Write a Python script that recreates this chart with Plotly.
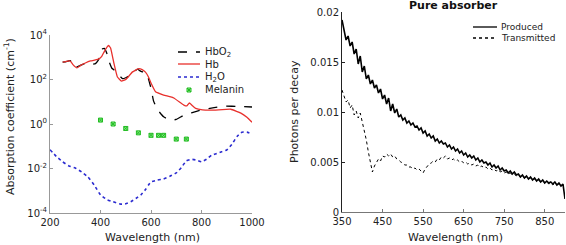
import plotly.graph_objects as go

# ---------------- Left panel data ----------------
hbo2_wl = [250, 260, 280, 290, 300, 310, 330, 350, 367, 380, 390, 400, 407, 415, 425, 435, 445, 455,
           470, 487, 500, 520, 546, 560, 578, 586, 593, 600, 610, 625, 650, 677, 700, 730, 760, 800, 850, 890, 950, 1000]
hbo2_val = [600, 620, 700, 480, 330, 380, 480, 560, 480, 520, 700, 1200, 2300, 2500, 1500, 600, 320, 260,
            170, 110, 120, 160, 290, 230, 210, 150, 80, 40, 11, 4.5, 2.1, 1.5, 1.6, 2.5, 3.2, 4.3, 5.4, 6.3, 6.2, 5.8]

hb_wl = [250, 260, 280, 290, 307, 320, 340, 360, 380, 392, 405, 415, 425, 432, 440, 453, 467, 483,
         500, 527, 551, 565, 578, 590, 600, 618, 650, 690, 730, 742, 752, 762, 777, 804, 850, 916, 956, 980, 1000]
hb_val = [600, 640, 680, 480, 330, 420, 550, 680, 760, 830, 1100, 1800, 2800, 3400, 2600, 550, 130, 85,
          100, 220, 310, 280, 215, 130, 69, 28, 20, 14.8, 7.1, 6.5, 8.8, 7.0, 5.0, 4.3, 4.2, 4.6, 3.1, 2.0, 1.2]

h2o_wl = [200, 225, 250, 275, 300, 325, 350, 375, 400, 425, 450, 480, 500, 520, 540, 560, 580, 590, 600,
          625, 650, 675, 700, 720, 740, 760, 780, 800, 820, 840, 860, 880, 900, 920, 940, 960, 980, 1000]
h2o_val = [0.07, 0.035, 0.02, 0.013, 0.0105, 0.007, 0.0042, 0.0018, 0.00065, 0.0004, 0.00032, 0.00025,
           0.00026, 0.00032, 0.00045, 0.00065, 0.0012, 0.0018, 0.0025, 0.0030, 0.0034, 0.0045, 0.0063,
           0.011, 0.022, 0.026, 0.024, 0.020, 0.026, 0.040, 0.047, 0.057, 0.068, 0.12, 0.27, 0.43, 0.43, 0.36]

mel_wl = [400, 450, 500, 550, 600, 630, 650, 700, 740]
mel_val = [1.5, 1.0, 0.63, 0.4, 0.31, 0.31, 0.31, 0.21, 0.21]

left_yticks = [1e-4, 1e-2, 1, 1e2, 1e4]
left_yticktext = ["10<sup>-4</sup>", "10<sup>-2</sup>", "10<sup>0</sup>", "10<sup>2</sup>", "10<sup>4</sup>"]
left_xticks = [200, 400, 600, 800, 1000]
left_names = ["HbO<sub>2</sub>", "Hb", "H<sub>2</sub>O", "Melanin"]

# ---------------- Right panel data ----------------
spec_wl = list(range(350, 905, 5))
produced = [0.0192, 0.0180, 0.0172, 0.0176, 0.0166, 0.0170, 0.0158, 0.0163, 0.0148, 0.0156,
            0.0140, 0.0146, 0.0133, 0.0137, 0.0128, 0.0132, 0.0124, 0.0127, 0.0119, 0.0123,
            0.0113, 0.0117, 0.0108, 0.0114, 0.0101, 0.0108, 0.0099, 0.0103, 0.0095, 0.0097,
            0.0092, 0.0094, 0.0089, 0.0091, 0.0087, 0.0089, 0.0085, 0.0086, 0.0082, 0.0084,
            0.0079, 0.0081, 0.0076, 0.0078, 0.0074, 0.0076, 0.0071, 0.0073, 0.0069, 0.0071,
            0.0068, 0.0069, 0.0065, 0.0067, 0.0063, 0.0065, 0.0061, 0.0063, 0.0059, 0.0061,
            0.0057, 0.0059, 0.0055, 0.0057, 0.0054, 0.0056, 0.0052, 0.0054, 0.0050, 0.0052,
            0.0049, 0.0050, 0.0047, 0.0049, 0.0045, 0.0047, 0.0044, 0.0046, 0.0042, 0.0044,
            0.0041, 0.0042, 0.0039, 0.0041, 0.0038, 0.0040, 0.0037, 0.0038, 0.0035, 0.0037,
            0.0034, 0.0036, 0.0033, 0.0035, 0.0032, 0.0034, 0.0031, 0.0033, 0.0030, 0.0032,
            0.0029, 0.0031, 0.0029, 0.0030, 0.0028, 0.0030, 0.0027, 0.0029, 0.0026, 0.0028,
            0.0013]
transmitted = [0.0122, 0.0115, 0.0110, 0.0112, 0.0104, 0.0107, 0.0097, 0.0101, 0.0094, 0.0099,
               0.0090, 0.0083, 0.0072, 0.0060, 0.0048, 0.0040, 0.0046, 0.0050, 0.0053, 0.0051,
               0.0056, 0.0055, 0.0058, 0.0056, 0.0058, 0.0055, 0.0056, 0.0053, 0.0052, 0.0050,
               0.0049, 0.0047, 0.0047, 0.0045, 0.0045, 0.0043, 0.0044, 0.0042, 0.0043, 0.0041,
               0.0039, 0.0043, 0.0046, 0.0048, 0.0049, 0.0051, 0.0050, 0.0053, 0.0052, 0.0055,
               0.0054, 0.0056, 0.0053, 0.0054, 0.0052, 0.0053, 0.0051, 0.0052, 0.0050, 0.0051,
               0.0049, 0.0050, 0.0048, 0.0049, 0.0047, 0.0048, 0.0046, 0.0047, 0.0045, 0.0046,
               0.0044, 0.0045, 0.0043, 0.0044, 0.0042, 0.0043, 0.0041, 0.0042, 0.0040, 0.0041,
               0.0039, 0.0040, 0.0038, 0.0039, 0.0037, 0.0038, 0.0036, 0.0037, 0.0035, 0.0036,
               0.0034, 0.0035, 0.0033, 0.0034, 0.0032, 0.0033, 0.0031, 0.0032, 0.0030, 0.0031,
               0.0029, 0.0030, 0.0028, 0.0029, 0.0027, 0.0029, 0.0027, 0.0028, 0.0026, 0.0027,
               0.0025]

right_yticks = [0, 0.005, 0.01, 0.015, 0.02]
right_yticktext = ["0", "0.005", "0.01", "0.015", "0.02"]
right_xticks = [350, 450, 550, 650, 750, 850]
right_names = ["Produced", "Transmitted"]

FONT = "DejaVu Sans"
W, H = 566, 245
TXT = "#222"

# styles
S_HBO2 = dict(color="black", width=1.3, dash="dash")
S_HB = dict(color="#e8302c", width=1.3)
S_H2O = dict(color="#2b2bd0", width=1.6, dash="dot")
MEL_MARK = dict(symbol="square-x", size=4, color="#8ef08e", line=dict(color="#22bb22", width=1))
S_PROD = dict(color="black", width=1.6)
S_TRANS = dict(color="black", width=1, dash="dot")

fig = go.Figure()
fig.add_trace(go.Scatter(x=hbo2_wl, y=hbo2_val, mode="lines", name=left_names[0],
                         line=dict(**S_HBO2, shape="spline", smoothing=0.3), xaxis="x", yaxis="y"))
fig.add_trace(go.Scatter(x=hb_wl, y=hb_val, mode="lines", name=left_names[1],
                         line=dict(**S_HB, shape="spline", smoothing=0.3), xaxis="x", yaxis="y"))
fig.add_trace(go.Scatter(x=h2o_wl, y=h2o_val, mode="lines", name=left_names[2],
                         line=dict(**S_H2O, shape="spline", smoothing=0.3), xaxis="x", yaxis="y"))
fig.add_trace(go.Scatter(x=mel_wl, y=mel_val, mode="markers", name=left_names[3],
                         marker=MEL_MARK, xaxis="x", yaxis="y"))
fig.add_trace(go.Scatter(x=spec_wl, y=produced, mode="lines", name=right_names[0],
                         line=S_PROD, xaxis="x2", yaxis="y2"))
fig.add_trace(go.Scatter(x=spec_wl, y=transmitted, mode="lines", name=right_names[1],
                         line=S_TRANS, xaxis="x2", yaxis="y2"))

# ---- manual legends on a hidden pixel-space overlay axis ----
leg_left_y = [52, 64, 77, 90]
leg_right_y = [27, 38]
for yy, st in zip(leg_left_y[:3], [S_HBO2, S_HB, S_H2O]):
    fig.add_trace(go.Scatter(x=[178, 200], y=[yy, yy], mode="lines", line=st, showlegend=False,
                             hoverinfo="skip", xaxis="x3", yaxis="y3"))
fig.add_trace(go.Scatter(x=[189], y=[leg_left_y[3]], mode="markers", marker=MEL_MARK, showlegend=False,
                         hoverinfo="skip", xaxis="x3", yaxis="y3"))
for yy, st in zip(leg_right_y, [S_PROD, S_TRANS]):
    fig.add_trace(go.Scatter(x=[473, 497], y=[yy, yy], mode="lines", line=dict(st, width=1.3),
                             showlegend=False, hoverinfo="skip", xaxis="x3", yaxis="y3"))

annotations = []
for yy, name in zip(leg_left_y, left_names):
    annotations.append(dict(text=name, x=203 / W, y=1 - yy / H, xref="paper", yref="paper",
                            xanchor="left", yanchor="middle", showarrow=False,
                            font=dict(family=FONT, size=10, color=TXT)))
for yy, name in zip(leg_right_y, right_names):
    annotations.append(dict(text=name, x=499 / W, y=1 - yy / H, xref="paper", yref="paper",
                            xanchor="left", yanchor="middle", showarrow=False,
                            font=dict(family=FONT, size=9, color=TXT)))
annotations += [
    dict(text="<b>Pure absorber</b>", x=453 / W, y=1 - 6 / H, xref="paper", yref="paper",
         xanchor="center", yanchor="middle", showarrow=False, font=dict(family=FONT, size=11, color="#111")),
    dict(text="Absorption coefficient (cm<sup>-1</sup>)", x=10 / W, y=1 - 117 / H, xref="paper", yref="paper",
         xanchor="center", yanchor="middle", textangle=-90, showarrow=False,
         font=dict(family=FONT, size=11, color=TXT)),
    dict(text="Photons per decay", x=295 / W, y=1 - 112 / H, xref="paper", yref="paper",
         xanchor="center", yanchor="middle", textangle=-90, showarrow=False,
         font=dict(family=FONT, size=11, color=TXT)),
    dict(text="Wavelength (nm)", x=152 / W, y=1 - 237 / H, xref="paper", yref="paper",
         xanchor="center", yanchor="middle", showarrow=False, font=dict(family=FONT, size=11, color=TXT)),
    dict(text="Wavelength (nm)", x=455 / W, y=1 - 237 / H, xref="paper", yref="paper",
         xanchor="center", yanchor="middle", showarrow=False, font=dict(family=FONT, size=11, color=TXT)),
]

axis_common = dict(showgrid=False, zeroline=False, ticks="inside", ticklen=3, automargin=False,
                   tickfont=dict(family=FONT, size=10, color=TXT), mirror=False)

fig.update_layout(
    template="none",
    width=W, height=H,
    margin=dict(l=0, r=0, t=0, b=0),
    paper_bgcolor="white", plot_bgcolor="rgba(0,0,0,0)",
    font=dict(family=FONT, color=TXT),
    showlegend=False,
    xaxis=dict(domain=[50 / W, 252 / W], range=[200, 1000], anchor="y",
               tickvals=left_xticks, showline=True, linecolor="#999", linewidth=1, tickcolor="#999",
               **axis_common),
    yaxis=dict(domain=[1 - 213 / H, 1 - 35 / H], type="log", range=[-4, 4], anchor="x",
               tickvals=left_yticks, ticktext=left_yticktext,
               showline=True, linecolor="#999", linewidth=1, tickcolor="#999",
               **axis_common),
    xaxis2=dict(domain=[342 / W, 565 / W], range=[350, 900], anchor="y2",
                tickvals=right_xticks, showline=True, linecolor="#777", linewidth=1, tickcolor="#777",
                **axis_common),
    yaxis2=dict(domain=[1 - 212 / H, 1 - 12 / H], range=[0, 0.02], anchor="x2",
                tickvals=right_yticks, ticktext=right_yticktext,
                showline=True, linecolor="#222", linewidth=1, tickcolor="#222",
                **axis_common),
    xaxis3=dict(domain=[0, 1], range=[0, W], visible=False, fixedrange=True, anchor="y3"),
    yaxis3=dict(domain=[0, 1], range=[H, 0], visible=False, fixedrange=True, anchor="x3"),
    annotations=annotations,
)

fig.write_html("out.html",
               config={"displayModeBar": False},
               post_script="document.body.style.margin='0';document.body.style.overflow='hidden';")
